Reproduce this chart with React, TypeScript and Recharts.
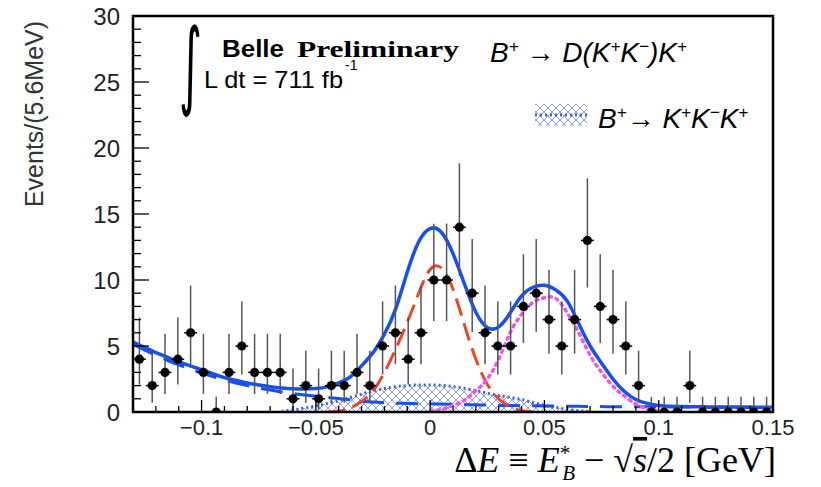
import React from 'react';
import { ComposedChart, Line, Area, Scatter, ErrorBar, XAxis, YAxis, ReferenceLine } from 'recharts';

// ---------- data ----------
const binLo = -0.13;
const binWidth = 0.0056;
const binCounts = [4, 2, 3, 4, 6, 3, 0, 3, 5, 3, 3, 3, 1, 2, 1, 2, 2, 3, 2, 5, 6, 4, 6, 10, 10, 14, 9, 6, 5, 5, 8, 9, 7, 5, 7, 13, 8, 7, 5, 2, 0, 0, 0, 2, 0, 0, 0, 0, 0, 0];
const errLow = [1.91, 1.29, 1.63, 1.91, 2.38, 1.63, 0, 1.63, 2.16, 1.63, 1.63, 1.63, 0.83, 1.29, 0.83, 1.29, 1.29, 1.63, 1.29, 2.16, 2.38, 1.91, 2.38, 3.11, 3.11, 3.7, 2.94, 2.38, 2.16, 2.16, 2.77, 2.94, 2.58, 2.16, 2.58, 3.57, 2.77, 2.58, 2.16, 1.29, 0, 0, 0, 1.29, 0, 0, 0, 0, 0, 0];
const errHigh = [3.16, 2.64, 2.92, 3.16, 3.58, 2.92, 1.15, 2.92, 3.38, 2.92, 2.92, 2.92, 2.3, 2.64, 2.3, 2.64, 2.64, 2.92, 2.64, 3.38, 3.58, 3.16, 3.58, 4.27, 4.27, 4.84, 4.11, 3.58, 3.38, 3.38, 3.95, 4.11, 3.77, 3.38, 3.77, 4.7, 3.95, 3.77, 3.38, 2.64, 1.15, 1.15, 1.15, 2.64, 1.15, 1.15, 1.15, 1.15, 1.15, 1.15];

const xGrid = [-0.13, -0.125, -0.12, -0.115, -0.11, -0.105, -0.1, -0.095, -0.09, -0.085, -0.08, -0.075, -0.07, -0.065, -0.06, -0.055, -0.05, -0.045, -0.04, -0.035, -0.03, -0.025, -0.02, -0.015, -0.01, -0.005, 0, 0.005, 0.01, 0.015, 0.02, 0.025, 0.03, 0.035, 0.04, 0.045, 0.05, 0.055, 0.06, 0.065, 0.07, 0.075, 0.08, 0.085, 0.09, 0.095, 0.1, 0.105, 0.11, 0.115, 0.12, 0.125, 0.13, 0.135, 0.14, 0.145, 0.15];
const totalFit = [5.3, 4.9, 4.5, 4.15, 3.8, 3.5, 3.2, 2.9, 2.6, 2.4, 2.2, 2.05, 1.92, 1.82, 1.76, 1.74, 1.78, 1.9, 2.2, 2.65, 3.5, 4.5, 5.9, 7.85, 10.6, 12.9, 13.9, 13.6, 12.0, 9.7, 7.55, 6.4, 6.45, 7.5, 8.8, 9.45, 9.6, 9.25, 8.4, 6.7, 5.0, 3.7, 2.5, 1.55, 0.95, 0.65, 0.5, 0.44, 0.41, 0.4, 0.39, 0.38, 0.38, 0.37, 0.37, 0.36, 0.36];
const continuum = [5.15, 4.7, 4.3, 3.92, 3.58, 3.26, 2.96, 2.68, 2.42, 2.2, 2.0, 1.82, 1.66, 1.52, 1.4, 1.29, 1.2, 1.11, 1.02, 0.92, 0.82, 0.75, 0.7, 0.67, 0.65, 0.63, 0.62, 0.6, 0.58, 0.56, 0.54, 0.52, 0.5, 0.49, 0.48, 0.47, 0.46, 0.45, 0.44, 0.43, 0.42, 0.41, 0.4, 0.4, 0.39, 0.39, 0.38, 0.38, 0.37, 0.37, 0.36, 0.36, 0.35, 0.35, 0.35, 0.34, 0.34];
const signalFit = [null, null, null, null, null, null, null, null, null, null, null, null, null, null, null, null, null, 0, 0.05, 0.3, 0.8, 1.6, 3.0, 4.8, 6.8, 9.0, 10.8, 10.9, 9.3, 6.6, 4.0, 2.1, 1.0, 0.4, 0.1, 0, null, null, null, null, null, null, null, null, null, null, null, null, null, null, null, null, null, null, null, null, null];
const kkkPeaking = [null, null, null, null, null, null, null, null, null, null, null, null, null, 0.05, 0.15, 0.3, 0.45, 0.65, 0.85, 1.1, 1.35, 1.6, 1.78, 1.92, 2.0, 2.05, 2.05, 2.02, 1.92, 1.8, 1.62, 1.42, 1.25, 1.1, 0.95, 0.72, 0.5, 0.35, 0.2, 0.1, 0.03, null, null, null, null, null, null, null, null, null, null, null, null, null, null, null, null];
const dkPeak = [null, null, null, null, null, null, null, null, null, null, null, null, null, null, null, null, null, null, null, null, null, null, null, null, null, null, 0.05, 0.2, 0.5, 0.9, 1.6, 2.5, 4.0, 6.0, 7.4, 8.3, 8.65, 8.6, 7.5, 6.0, 4.3, 3.0, 1.95, 1.2, 0.6, 0.25, 0.05, null, null, null, null, null, null, null, null, null, null];

const xTicks = [-0.13, -0.12, -0.11, -0.1, -0.09, -0.08, -0.07, -0.06, -0.05, -0.04, -0.03, -0.02, -0.01, 0, 0.01, 0.02, 0.03, 0.04, 0.05, 0.06, 0.07, 0.08, 0.09, 0.1, 0.11, 0.12, 0.13, 0.14, 0.15];
const xMajorValues = [-0.1, -0.05, 0, 0.05, 0.1, 0.15];
const xMajorLabels = ['\u22120.1', '\u22120.05', '0', '0.05', '0.1', '0.15'];
const yTicks = [0, 1, 2, 3, 4, 5, 6, 7, 8, 9, 10, 11, 12, 13, 14, 15, 16, 17, 18, 19, 20, 21, 22, 23, 24, 25, 26, 27, 28, 29, 30];
const yMajorLabels = ['0', '5', '10', '15', '20', '25', '30'];

// ---------- build tables ----------
const curveData = xGrid.map((x, i) => ({
  x,
  total: totalFit[i],
  cont: continuum[i],
  sig: signalFit[i],
  kkk: kkkPeaking[i],
  dk: dkPeak[i],
}));
const points = binCounts.map((c, i) => ({
  x: binLo + (i + 0.5) * binWidth,
  y: c,
  ey: [errLow[i], errHigh[i]],
  ex: binWidth / 2,
}));

// ---------- layout ----------
const W = 821, H = 487;
const PL = 133, PR = 773, PT = 16, PB = 412;
const SANS = '"Liberation Sans", Arial, sans-serif';
const SERIF = '"Liberation Serif", "DejaVu Serif", serif';
const BLUE = '#1650f0';

const YTick = (props: any) => {
  const { y, payload } = props;
  const v = payload.value;
  const major = v % 5 === 0;
  return (
    <g>
      <line x1={PL} x2={PL + (major ? 16 : 8)} y1={y} y2={y} stroke="#000" strokeWidth={1.3} />
      {major && (
        <text x={PL - 13} y={y} dy="0.36em" textAnchor="end" fontFamily={SANS} fontSize={24} fill="#222">
          {yMajorLabels[v / 5]}
        </text>
      )}
    </g>
  );
};

const XTick = (props: any) => {
  const { x, payload } = props;
  const v = payload.value;
  const idx = xMajorValues.findIndex((m) => Math.abs(m - v) < 1e-6);
  const major = idx >= 0;
  return (
    <g>
      <line x1={x} x2={x} y1={PB} y2={PB - (major ? 12 : 6)} stroke="#000" strokeWidth={1.3} />
      {major && (
        <text x={x} y={435} textAnchor="middle" fontFamily={SANS} fontSize={22} fill="#222">
          {xMajorLabels[idx]}
        </text>
      )}
    </g>
  );
};

const Dot = (p: any) => <circle cx={p.cx} cy={p.cy} r={4.6} fill="#000" />;

export default function App() {
  return (
    <div style={{ position: 'absolute', left: 0, top: 0, width: W, height: H, background: '#fff' }}>
      <ComposedChart width={W} height={H} data={curveData} margin={{ top: PT, right: W - PR, bottom: 0, left: 0 }}>
        <defs>
          <pattern id="hatch" width="8" height="8" patternUnits="userSpaceOnUse">
            <path d="M0,0 L8,8 M8,0 L0,8" stroke="#8c9cf0" strokeWidth="1" />
          </pattern>
        </defs>
        <XAxis dataKey="x" type="number" domain={[-0.13, 0.15]} ticks={xTicks} interval={0} tick={XTick} tickLine={false} axisLine={false} height={H - PB} allowDataOverflow />
        <YAxis type="number" domain={[0, 30]} ticks={yTicks} interval={0} tick={YTick} tickLine={false} axisLine={false} width={PL} allowDataOverflow />
        <Area dataKey="kkk" type="monotone" fill="url(#hatch)" fillOpacity={1} stroke="#3a5cf0" strokeWidth={3} strokeDasharray="2 3" isAnimationActive={false} dot={false} activeDot={false} />
        <ReferenceLine y={0} stroke="#2e9e2e" strokeWidth={2} strokeDasharray="6 4" />
        <Line dataKey="cont" type="monotone" stroke={BLUE} strokeWidth={3} strokeDasharray="22 12" dot={false} activeDot={false} isAnimationActive={false} />
        <Line dataKey="sig" type="natural" stroke="#ec4628" strokeWidth={3} strokeDasharray="18 8" dot={false} activeDot={false} isAnimationActive={false} />
        <Line dataKey="dk" type="natural" stroke="#ee55ee" strokeWidth={3.5} strokeDasharray="2 5" strokeLinecap="round" dot={false} activeDot={false} isAnimationActive={false} />
        <Line dataKey="total" type="natural" stroke={BLUE} strokeWidth={3.5} dot={false} activeDot={false} isAnimationActive={false} />
        <Scatter data={points} dataKey="y" shape={Dot} isAnimationActive={false}>
          <ErrorBar dataKey="ey" direction="y" width={0} stroke="#555" strokeWidth={1.5} />
          <ErrorBar dataKey="ex" direction="x" width={0} stroke="#000" strokeWidth={1.5} />
        </Scatter>
      </ComposedChart>
      <svg width={W} height={H} style={{ position: 'absolute', left: 0, top: 0, pointerEvents: 'none' }}>
        <defs>
          <pattern id="hatch2" width="8" height="8" patternUnits="userSpaceOnUse">
            <path d="M0,0 L8,8 M8,0 L0,8" stroke="#8c9cf0" strokeWidth="1" />
          </pattern>
        </defs>
        <rect x={PL} y={PT} width={PR - PL} height={PB - PT} fill="none" stroke="#000" strokeWidth={2.5} />
        <text transform="translate(43,114) rotate(-90)" textAnchor="middle" fontFamily={SANS} fontSize={25} fill="#333">Events/(5.6MeV)</text>
        <text transform="translate(179,97) scale(0.55,1.2)" fontFamily='"DejaVu Sans", sans-serif' fontWeight={400} fontSize={80} fill="#000">∫</text>
        <text x={222} y={57} fontFamily={SANS} fontWeight="bold" fontSize={23} fill="#000" textLength={62} lengthAdjust="spacingAndGlyphs">Belle</text>
        <text x={297} y={57} fontFamily={SERIF} fontWeight="bold" fontSize={23} fill="#000" textLength={162} lengthAdjust="spacingAndGlyphs">Preliminary</text>
        <text x={204} y={88} fontFamily={SANS} fontSize={24} fill="#000" textLength={139} lengthAdjust="spacingAndGlyphs">L dt = 711 fb</text>
        <text x={345} y={70} fontFamily={SANS} fontSize={14} fill="#000">-1</text>
        <text x={490} y={62} fontFamily={SANS} fontStyle="italic" fontSize={28} fill="#000">
          B<tspan dy={-10} fontSize={17}>+</tspan><tspan dy={10}> → D(K</tspan><tspan dy={-10} fontSize={17}>+</tspan><tspan dy={10}>K</tspan><tspan dy={-10} fontSize={17}>−</tspan><tspan dy={10}>)K</tspan><tspan dy={-10} fontSize={17}>+</tspan>
        </text>
        <rect x={535} y={104} width={52} height={22} fill="url(#hatch2)" />
        <line x1={535} x2={587} y1={115} y2={115} stroke="#3a5cf0" strokeWidth={3} strokeDasharray="2 3" />
        <text x={598} y={128} fontFamily={SANS} fontStyle="italic" fontSize={28} fill="#000">
          B<tspan dy={-10} fontSize={17}>+</tspan><tspan dy={10}>→ K</tspan><tspan dy={-10} fontSize={17}>+</tspan><tspan dy={10}>K</tspan><tspan dy={-10} fontSize={17}>−</tspan><tspan dy={10}>K</tspan><tspan dy={-10} fontSize={17}>+</tspan>
        </text>
        <text x={776} y={472} textAnchor="end" fontFamily={SERIF} fontSize={36} fill="#000">
          Δ<tspan fontStyle="italic">E</tspan> ≡ <tspan fontStyle="italic">E</tspan><tspan dy={-12} fontSize={21}>*</tspan><tspan dx={-8} dy={20} fontSize={21} fontStyle="italic">B</tspan><tspan dy={-8}> − √</tspan><tspan fontStyle="italic" textDecoration="overline">s</tspan>/2 [GeV]
        </text>
      </svg>
    </div>
  );
}
